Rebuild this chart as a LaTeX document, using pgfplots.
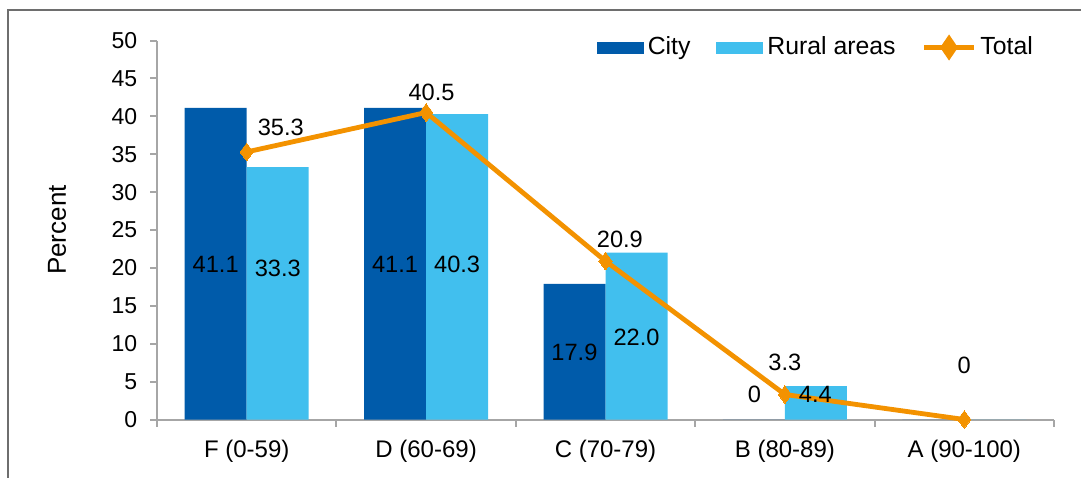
\documentclass[border=0pt]{standalone}
\usepackage{fontspec}
\setmainfont{Liberation Sans}
\usepackage{pgfplots}
\pgfplotsset{compat=1.18}
\definecolor{city}{HTML}{005BAA}
\definecolor{rural}{HTML}{41BFEE}
\definecolor{total}{HTML}{F39200}
\definecolor{axgray}{HTML}{A6A6A6}
\definecolor{framegray}{HTML}{6E6E6E}

\begin{document}
\fontsize{11}{13}\selectfont
\begin{tikzpicture}
\path[use as bounding box] (0,0) rectangle (540.5pt,238.5pt);
\draw[line width=1pt, framegray] (4.2pt,-2pt) -- (4.2pt,233.5pt) -- (545pt,233.5pt);
\begin{axis}[
  at={(78.5pt,28.75pt)}, anchor=south west,
  width=448.5pt, height=189.5pt, scale only axis,
  xmin=-0.5, xmax=4.5, ymin=0, ymax=50,
  clip=false,
  axis x line*=bottom, axis y line*=left,
  axis line style={axgray, line width=1pt, -},
  ytick={0,5,...,50},
  xtick={0,1,2,3,4},
  xticklabels={F (0-59), D (60-69), C (70-79), B (80-89), A (90-100)},
  minor xtick={-0.5,0.5,1.5,2.5,3.5,4.5},
  major x tick style={draw=none},
  tick align=outside,
  tick style={axgray, line width=1pt},
  major tick length=3.5pt, minor tick length=3.5pt,
  /pgf/number format/assume math mode=true,
  yticklabel style={font=\fontsize{11.5}{13}\selectfont, xshift=-2.5pt},
  xticklabel style={font=\fontsize{12}{14}\selectfont, yshift=-3pt},
  ylabel={Percent},
  ylabel style={at={(axis description cs:-0.1115,0.5)}, anchor=center, font=\fontsize{13}{15}\selectfont},
  legend style={draw=none, fill=none, at={(axis description cs:0.988,0.9815)}, anchor=east,
    legend columns=3, font=\fontsize{12.4}{14}\selectfont,
    /tikz/every even column/.append style={column sep=11pt}},
]
\addplot[ybar, bar width=31pt, bar shift=-15.5pt, fill=city, draw=none,
  legend image code/.code={\fill[city] (0pt,-3pt) rectangle (23.5pt,3pt);}]
  coordinates {(0,41.1) (1,41.1) (2,17.9) (3,0) (4,0)};
\addplot[ybar, bar width=31pt, bar shift=15.5pt, fill=rural, draw=none,
  legend image code/.code={\fill[rural] (0pt,-3pt) rectangle (23.5pt,3pt);}]
  coordinates {(0,33.3) (1,40.3) (2,22.0) (3,4.4) (4,0)};
\addplot[total, line width=2.4pt, mark=diamond*, mark size=4.4pt,
  mark options={fill=total, line width=0pt},
  legend image code/.code={\draw[total, line width=2.4pt] (0pt,0pt) -- (25pt,0pt);
    \fill[total] (12.5pt,4.4pt) -- (15.5pt,0pt) -- (12.5pt,-4.4pt) -- (9.5pt,0pt) -- cycle;}]
  coordinates {(0,35.3) (1,40.5) (2,20.9) (3,3.3) (4,0)};
\legend{City, Rural areas, Total}
% data labels
\addplot[draw=none, mark=none, nodes near coords, point meta=explicit symbolic,
  nodes near coords style={anchor=center, text=black, font=\fontsize{11.8}{13}\selectfont}]
  coordinates {
  (-0.173,20.4) [41.1] (0.173,20.0) [33.3]
  (0.827,20.4) [41.1] (1.173,20.4) [40.3]
  (1.827,8.8) [17.9] (2.173,10.8) [22.0]
  (2.83,3.3) [0] (3.17,3.3) [4.4]
  (0.19,38.5) [35.3] (1.03,43.2) [40.5] (2.08,23.7) [20.9] (3.0,7.6) [3.3] (4.0,7.2) [0]
  };
\end{axis}
\end{tikzpicture}
\end{document}
